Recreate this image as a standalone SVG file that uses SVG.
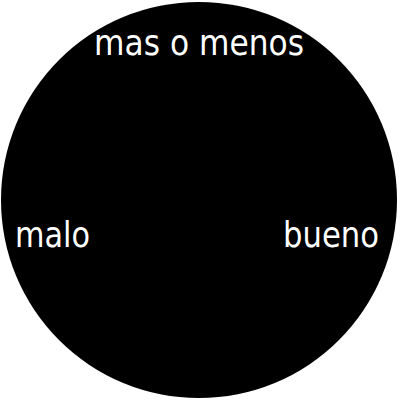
<svg xmlns="http://www.w3.org/2000/svg" width="400" height="400" viewBox="0 0 400 400">
<style>
.lbl{fill:#fff;font-family:"DejaVu Sans","Noto Sans",sans-serif;font-size:35px}
</style>
<rect width="400" height="400" fill="#fff"/>
<g id="disc"><circle cx="199" cy="200" r="198" fill="#000"/></g>
<g id="top"><text class="lbl" x="94" y="55" textLength="210" lengthAdjust="spacingAndGlyphs">mas o menos</text></g>
<g id="left"><text class="lbl" x="15" y="247" textLength="75" lengthAdjust="spacingAndGlyphs">malo</text></g>
<g id="right"><text class="lbl" x="283" y="247" textLength="96" lengthAdjust="spacingAndGlyphs">bueno</text></g>
</svg>
